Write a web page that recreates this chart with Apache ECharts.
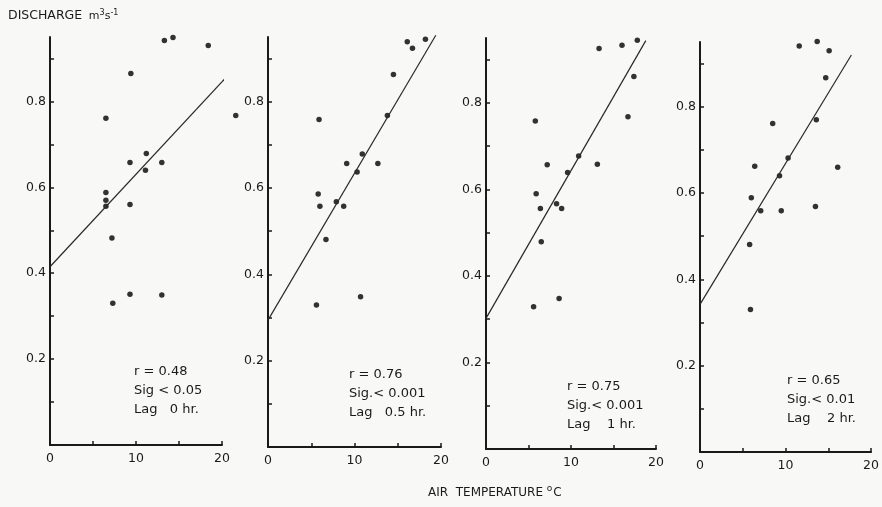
<!DOCTYPE html>
<html>
<head>
<meta charset="utf-8">
<script src="https://cdn.jsdelivr.net/npm/echarts@6/dist/echarts.min.js"></script>
<style>
  html, body { margin: 0; padding: 0; background: #f8f9f7; }
  #chart { width: 882px; height: 507px; }
</style>
</head>
<body>
<div id="chart"></div>
<script>
// air temperature (deg C) vs discharge (m3/s) at four lags
const lag0Temp = [13.3, 14.3, 18.4, 9.4, 6.5, 21.6, 11.2, 9.3, 13.0, 11.1, 6.5, 6.5, 6.5, 9.3, 7.2, 7.3, 9.3, 13.0];
const lag0Q    = [0.942, 0.949, 0.930, 0.865, 0.761, 0.767, 0.679, 0.658, 0.658, 0.640, 0.588, 0.570, 0.556, 0.560, 0.482, 0.330, 0.351, 0.349];

const lag05Temp = [18.2, 16.1, 16.7, 14.5, 13.8, 5.9, 10.9, 9.1, 12.7, 10.3, 5.8, 7.9, 6.0, 8.75, 6.7, 5.6, 10.7];
const lag05Q    = [0.945, 0.939, 0.924, 0.863, 0.768, 0.759, 0.679, 0.657, 0.657, 0.637, 0.586, 0.568, 0.558, 0.558, 0.481, 0.329, 0.348];

const lag1Temp = [17.8, 16.0, 13.3, 17.4, 16.7, 5.8, 10.9, 7.2, 13.1, 9.6, 5.9, 8.3, 6.4, 8.9, 6.5, 5.6, 8.6];
const lag1Q    = [0.945, 0.933, 0.926, 0.861, 0.768, 0.758, 0.677, 0.657, 0.658, 0.639, 0.590, 0.567, 0.556, 0.556, 0.479, 0.329, 0.348];

const lag2Temp = [13.7, 11.6, 15.1, 14.7, 13.6, 8.5, 10.3, 6.4, 16.1, 9.3, 6.0, 13.5, 7.1, 9.5, 5.8, 5.9];
const lag2Q    = [0.951, 0.941, 0.930, 0.867, 0.770, 0.761, 0.681, 0.662, 0.660, 0.640, 0.589, 0.569, 0.559, 0.559, 0.481, 0.330];

// regression line end points [temp, discharge]
const lag0Fit  = [[0, 0.415], [21, 0.867]];
const lag05Fit = [[0, 0.294], [19.4, 0.954]];
const lag1Fit  = [[0, 0.302], [18.8, 0.944]];
const lag2Fit  = [[0, 0.342], [17.7, 0.920]];

const statsText = [
  ['r = 0.48', 'Sig < 0.05', 'Lag   0 hr.'],
  ['r = 0.76', 'Sig.< 0.001', 'Lag   0.5 hr.'],
  ['r = 0.75', 'Sig.< 0.001', 'Lag    1 hr.'],
  ['r = 0.65', 'Sig.< 0.01', 'Lag    2 hr.']
];

const yTicks = [0.2, 0.4, 0.6, 0.8];
const xTicks = [0, 10, 20];

const ink = '#1a1a1a';
const font = 'DejaVu Sans';

// panel boxes in px (grid for x 0..20, y 0..0.95)
const panels = [
  { left: 50, top: 37, width: 172, height: 408, temp: lag0Temp, q: lag0Q, fit: lag0Fit, text: [134, 362] },
  { left: 268, top: 37, width: 173, height: 410, temp: lag05Temp, q: lag05Q, fit: lag05Fit, text: [349, 365] },
  { left: 486, top: 38, width: 170, height: 411, temp: lag1Temp, q: lag1Q, fit: lag1Fit, text: [567, 377] },
  { left: 700, top: 42, width: 175, height: 410, temp: lag2Temp, q: lag2Q, fit: lag2Fit, text: [787, 371] }
];

const grids = [], xAxes = [], yAxes = [], series = [], graphics = [];

panels.forEach((p, i) => {
  grids.push({ left: p.left, top: p.top, width: p.width, height: p.height });
  xAxes.push({
    type: 'value', gridIndex: i, min: 0, max: 20, interval: 5,
    axisLine: { lineStyle: { color: ink, width: 2 } },
    axisTick: { inside: true, length: 4, lineStyle: { color: ink, width: 1.5 } },
    splitLine: { show: false },
    axisLabel: {
      color: ink, fontFamily: font, fontSize: 12.5, margin: 7,
      formatter: v => xTicks.includes(v) ? String(v) : ''
    }
  });
  yAxes.push({
    type: 'value', gridIndex: i, min: 0, max: 0.95, interval: 0.1,
    axisLine: { lineStyle: { color: ink, width: 2 } },
    axisTick: { inside: true, length: 4, lineStyle: { color: ink, width: 1.5 } },
    splitLine: { show: false },
    axisLabel: {
      color: ink, fontFamily: font, fontSize: 12.5, margin: 4, showMaxLabel: false,
      formatter: v => yTicks.some(t => Math.abs(t - v) < 1e-6) ? v.toFixed(1) : ''
    }
  });
  series.push({
    type: 'scatter', xAxisIndex: i, yAxisIndex: i, clip: false,
    symbolSize: 5.5, itemStyle: { color: '#000' },
    data: p.temp.map((t, k) => [t, p.q[k]])
  });
  series.push({
    type: 'line', xAxisIndex: i, yAxisIndex: i, clip: false,
    symbol: 'none', lineStyle: { color: '#2a2a2a', width: 1.2 },
    data: p.fit
  });
  graphics.push({
    type: 'text', left: p.text[0], top: p.text[1],
    style: {
      text: statsText[i].join('\n'), fill: ink,
      font: '13px "' + font + '"', lineHeight: 19
    }
  });
});

graphics.push({
  type: 'text', left: 8, top: 9,
  style: {
    text: '{a|DISCHARGE}  {b|m}{s|3}{b|s}{s|-1}',
    rich: {
      a: { fontFamily: font, fontSize: 12.5, fill: ink },
      b: { fontFamily: font, fontSize: 11, fill: ink },
      s: { fontFamily: font, fontSize: 8, fill: ink, verticalAlign: 'top', padding: [0, 0, 6, 0] }
    }
  }
});
graphics.push({
  type: 'text', left: 428, top: 484,
  style: {
    text: '{a|AIR  TEMPERATURE }{s|o}{a|C}',
    rich: {
      a: { fontFamily: font, fontSize: 12, fill: ink },
      s: { fontFamily: font, fontSize: 9, fill: ink, padding: [0, 1, 8, 0] }
    }
  }
});

const chart = echarts.init(document.getElementById('chart'));
chart.setOption({
  backgroundColor: '#f8f9f7',
  animation: false,
  grid: grids,
  xAxis: xAxes,
  yAxis: yAxes,
  series: series,
  graphic: graphics
});
</script>
</body>
</html>
